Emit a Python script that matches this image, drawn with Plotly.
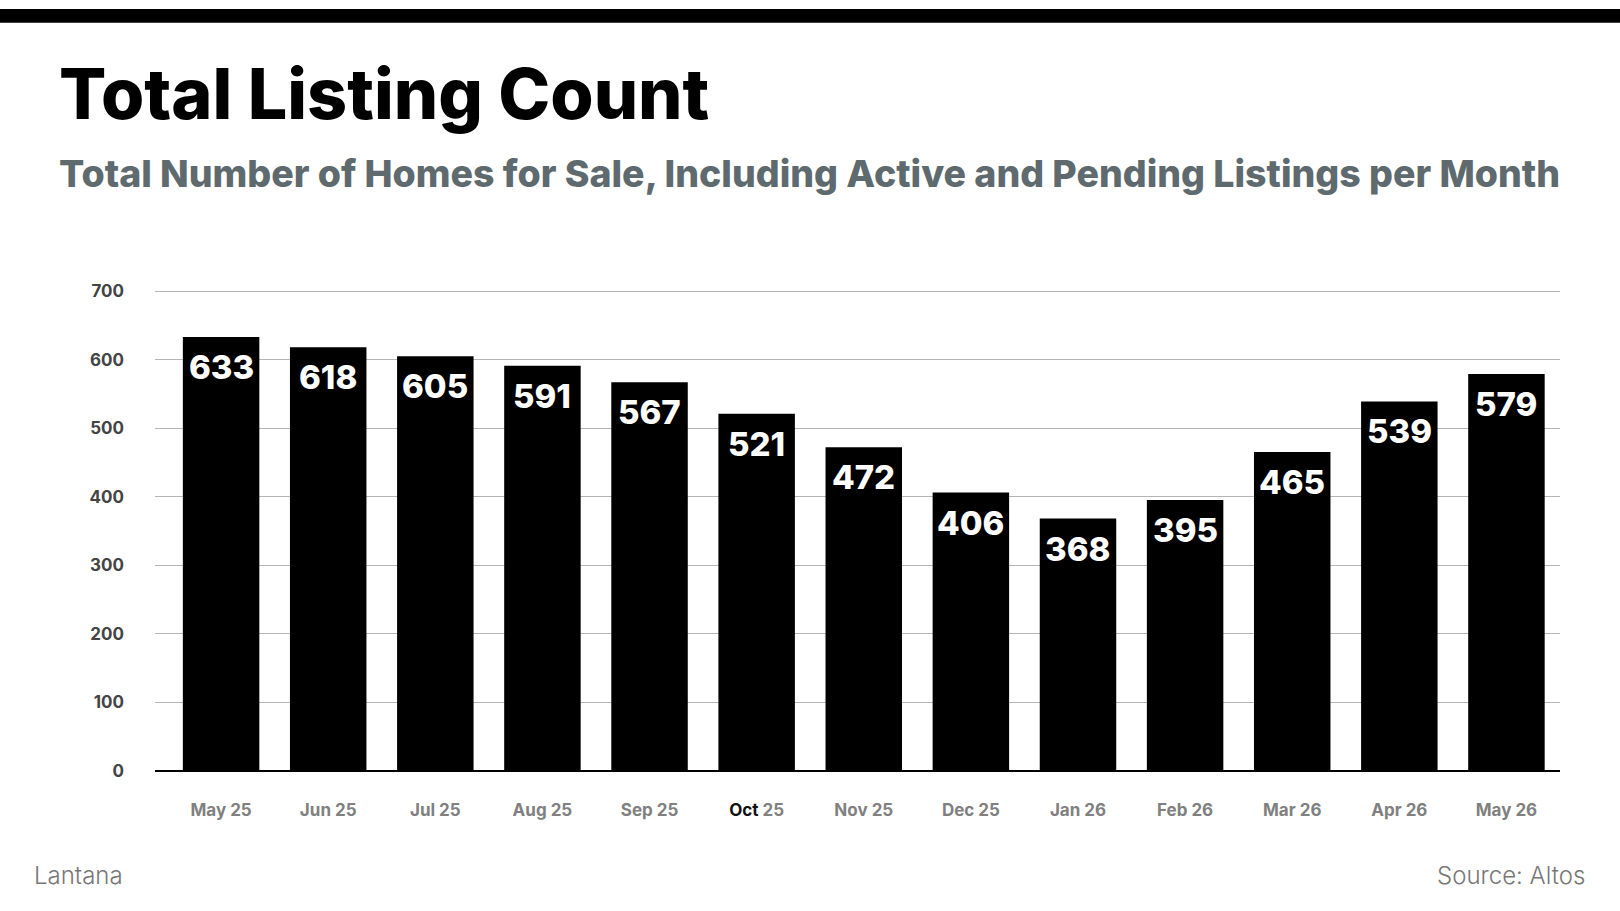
import plotly.graph_objects as go

months = ["May 25", "Jun 25", "Jul 25", "Aug 25", "Sep 25", "Oct 25", "Nov 25",
          "Dec 25", "Jan 26", "Feb 26", "Mar 26", "Apr 26", "May 26"]
listings = [633, 618, 605, 591, 567, 521, 472, 406, 368, 395, 465, 539, 579]
tick_labels = ["May 25", "Jun 25", "Jul 25", "Aug 25", "Sep 25",
               "<span style='color:#111111'>Oct</span> 25", "Nov 25", "Dec 25",
               "Jan 26", "Feb 26", "Mar 26", "Apr 26", "May 26"]
y_ticks = [0, 100, 200, 300, 400, 500, 600, 700]

W, H = 1620, 911
FONT = "Inter"

fig = go.Figure(go.Bar(
    x=months,
    y=listings,
    marker=dict(color="black", line_width=0),
    hoverinfo="x+y",
))

# value labels sit just inside the top of each bar
value_labels = [
    dict(x=m, y=v, text=str(v), xref="x", yref="y", showarrow=False,
         yanchor="middle", yshift=-30,
         font=dict(family=FONT, size=33, color="white", weight=800))
    for m, v in zip(months, listings)
]

fig.update_layout(
    width=W, height=H,
    margin=dict(l=0, r=0, t=0, b=0),
    plot_bgcolor="white",
    paper_bgcolor="white",
    bargap=0.286,
    showlegend=False,
    xaxis=dict(
        domain=[155 / W, 1560 / W],
        range=[-0.617, 12.5],
        tickmode="array",
        tickvals=months,
        ticktext=tick_labels,
        tickfont=dict(family=FONT, size=17, color="#808080", weight=700),
        ticklabelstandoff=27,
        showgrid=False,
        showline=False,
        ticks="",
    ),
    yaxis=dict(
        domain=[(H - 778) / H, (H - 287) / H],
        range=[0, 701.5],
        tickvals=y_ticks,
        tickfont=dict(family=FONT, size=17, color="#444444", weight=700),
        ticklabelstandoff=30,
        showgrid=True,
        gridcolor="#b5b5b5",
        gridwidth=1,
        zeroline=True,
        zerolinecolor="black",
        zerolinewidth=2,
        ticks="",
    ),
    shapes=[dict(type="rect", xref="paper", yref="paper",
                 x0=0, x1=1, y0=1 - 14 / H, y1=1,
                 fillcolor="black", line_width=0)],
    annotations=value_labels + [
        dict(text="Total Listing Count", xref="paper", yref="paper",
             x=57 / W, y=1 - 86 / H, xanchor="left", yanchor="middle",
             showarrow=False,
             font=dict(family=FONT, size=70, color="black", weight=800)),
        dict(text="Total Number of Homes for Sale, Including Active and Pending Listings per Month",
             xref="paper", yref="paper",
             x=57 / W, y=1 - 168 / H, xanchor="left", yanchor="middle",
             showarrow=False,
             font=dict(family=FONT, size=37.5, color="#5e6a6e", weight=800)),
        dict(text="Lantana", xref="paper", yref="paper",
             x=32 / W, y=1 - 885 / H, xanchor="left", yanchor="middle",
             showarrow=False,
             font=dict(family=FONT, size=24, color="#777777", weight=300)),
        dict(text="Source: Altos", xref="paper", yref="paper",
             x=1587 / W, y=1 - 885 / H, xanchor="right", yanchor="middle",
             showarrow=False,
             font=dict(family=FONT, size=24, color="#777777", weight=300)),
    ],
)

# pin the figure to the window's top-left corner, no page margin or scrolling
pin = ("document.body.style.margin='0';"
       "document.body.style.overflow='hidden';"
       "var d=document.getElementById('{plot_id}');"
       "d.style.position='fixed';d.style.top='0';d.style.left='0';")
fig.write_html("out.html", config={"displayModeBar": False}, post_script=pin)
